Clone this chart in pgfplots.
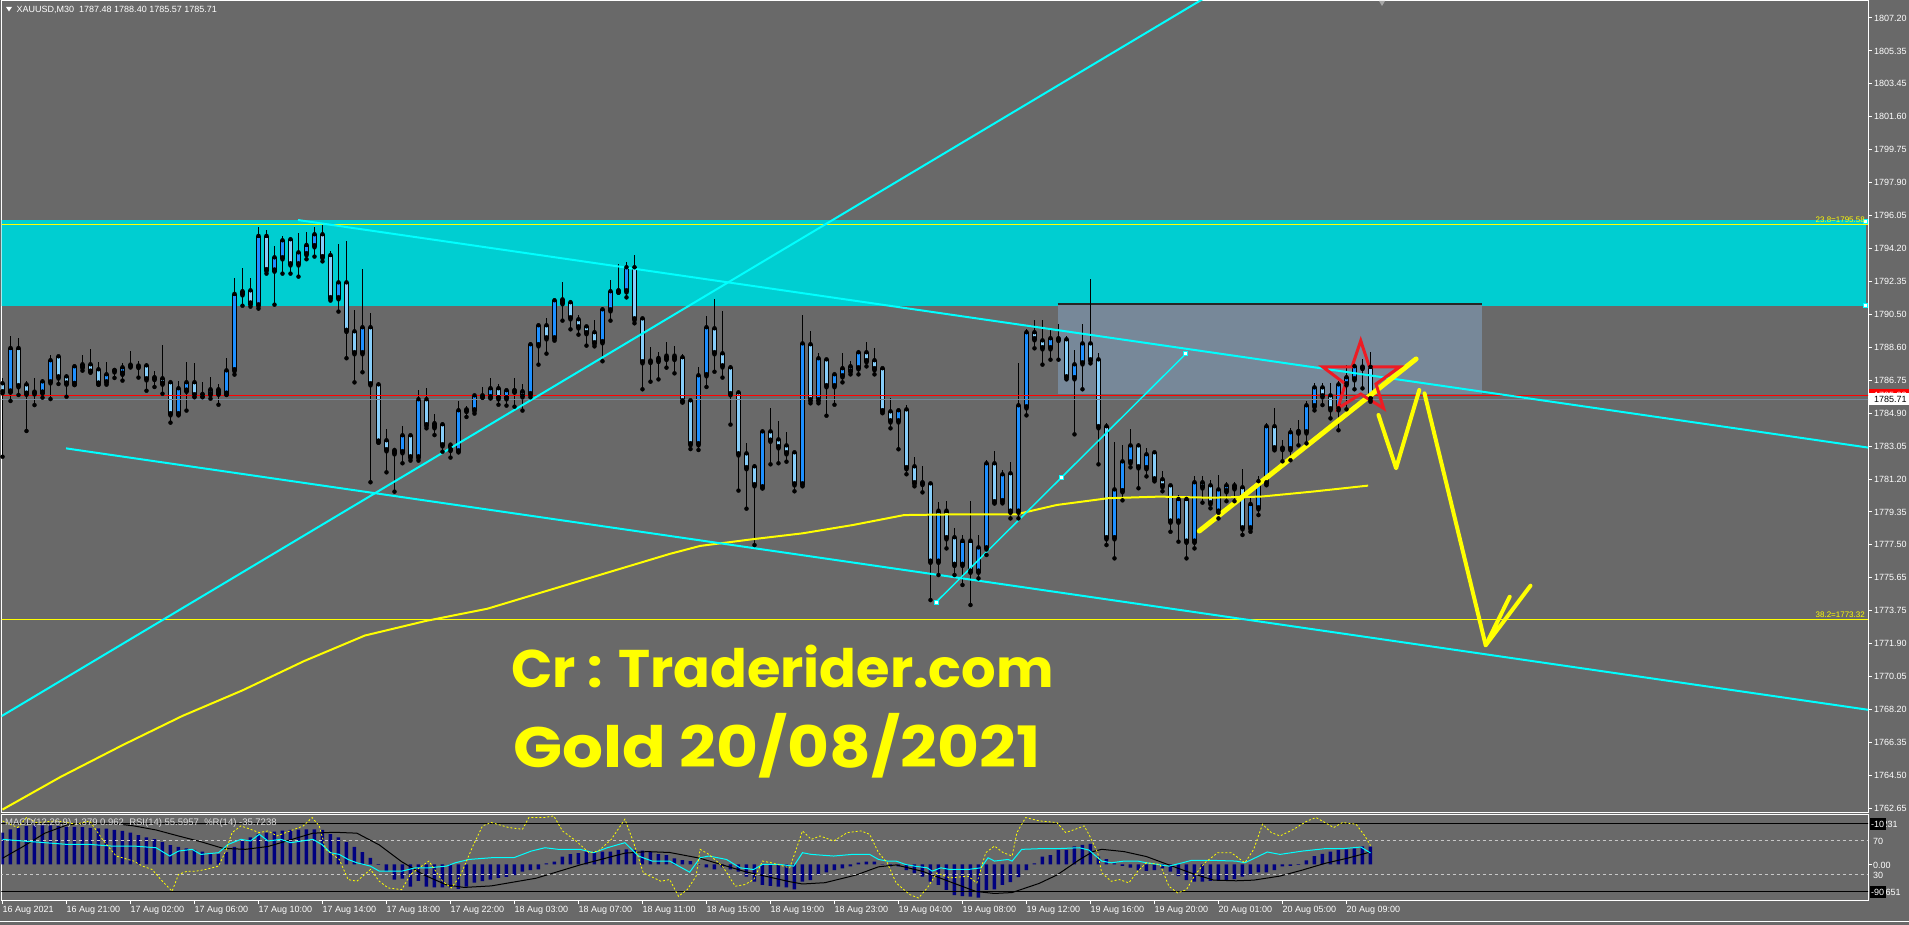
\documentclass[border=0pt]{standalone}
\usepackage{fontspec}
\setmainfont{Liberation Sans}
\newfontfamily\bigfont{Poppins}
\usepackage{pgfplots}
\usepackage{pgfplotstable}
\pgfplotsset{compat=1.18}

\definecolor{chartbg}{RGB}{105,105,105}
\definecolor{zone}{RGB}{0,206,209}
\definecolor{slate}{RGB}{119,136,153}
\definecolor{bull}{RGB}{30,144,255}
\definecolor{bear}{RGB}{135,206,250}
\definecolor{aqua}{RGB}{0,255,255}
\definecolor{mtyellow}{RGB}{255,255,0}
\definecolor{starred}{RGB}{237,28,36}
\definecolor{navyblue}{RGB}{0,0,128}
\definecolor{levelgray}{RGB}{200,200,200}
\newcommand\ninept{\fontsize{9}{10.8}\selectfont}
\newcommand\eightpt{\fontsize{8}{9.6}\selectfont}

% XAUUSD M30 bars: index, open, high, low, close
\pgfplotstableread{
k O H L C
0 1786.55 1786.89 1782.47 1786.10
1 1786.14 1789.27 1785.61 1788.54
2 1788.54 1789.16 1785.95 1786.44
3 1786.49 1786.76 1783.92 1786.02
4 1786.04 1786.91 1785.38 1786.08
5 1786.08 1786.85 1785.80 1786.66
6 1786.66 1788.20 1785.72 1787.85
7 1788.07 1788.11 1786.57 1786.94
8 1786.94 1787.13 1785.85 1786.59
9 1786.57 1787.64 1786.51 1787.51
10 1787.62 1788.20 1787.32 1787.51
11 1787.62 1788.54 1787.26 1787.26
12 1787.34 1787.81 1786.53 1786.59
13 1786.66 1787.81 1786.53 1787.06
14 1787.28 1787.36 1786.91 1787.30
15 1787.15 1787.73 1786.76 1787.45
16 1787.56 1788.43 1787.55 1787.60
17 1787.55 1787.87 1786.93 1787.53
18 1787.56 1787.73 1786.19 1786.83
19 1786.89 1787.28 1786.40 1786.85
20 1786.83 1788.77 1786.02 1786.59
21 1786.61 1786.63 1784.39 1784.86
22 1784.86 1786.72 1784.84 1786.27
23 1786.19 1787.81 1785.07 1786.61
24 1786.61 1787.75 1785.82 1785.93
25 1785.95 1786.68 1785.82 1785.91
26 1785.99 1786.96 1785.74 1786.21
27 1786.21 1786.55 1785.40 1786.02
28 1786.02 1788.03 1785.95 1787.28
29 1787.34 1792.53 1787.10 1791.59
30 1791.74 1793.11 1790.98 1791.62
31 1791.79 1792.53 1790.93 1791.10
32 1791.00 1795.42 1790.82 1794.86
33 1794.86 1795.25 1792.79 1792.98
34 1792.96 1794.35 1791.04 1793.65
35 1793.65 1794.91 1792.79 1794.61
36 1794.67 1794.80 1792.79 1793.31
37 1793.31 1795.08 1792.62 1793.93
38 1793.88 1795.14 1793.60 1794.35
39 1794.33 1795.42 1793.75 1794.95
40 1794.95 1795.53 1793.48 1793.71
41 1793.78 1794.07 1791.27 1791.40
42 1791.40 1794.46 1790.65 1792.24
43 1792.24 1794.63 1788.02 1789.56
44 1789.48 1790.74 1786.66 1788.30
45 1788.30 1793.05 1787.23 1789.71
46 1789.71 1790.55 1781.03 1786.55
47 1786.49 1786.66 1783.26 1783.32
48 1783.34 1784.03 1781.59 1782.83
49 1782.79 1782.94 1780.50 1782.66
50 1782.72 1784.20 1782.10 1783.62
51 1783.62 1783.67 1782.25 1782.43
52 1782.43 1786.23 1782.25 1785.65
53 1785.65 1786.32 1784.07 1784.24
54 1784.13 1784.88 1783.69 1784.30
55 1784.24 1784.26 1782.75 1783.11
56 1783.09 1783.22 1782.42 1782.85
57 1782.77 1785.59 1782.75 1785.03
58 1785.05 1785.31 1784.71 1785.08
59 1785.08 1785.99 1784.90 1785.87
60 1785.85 1786.40 1785.80 1785.87
61 1785.82 1786.91 1785.76 1786.27
62 1786.27 1786.57 1785.40 1785.76
63 1785.76 1786.29 1785.35 1786.16
64 1786.14 1786.91 1785.29 1786.16
65 1786.10 1786.55 1785.07 1785.87
66 1785.99 1788.92 1785.82 1788.75
67 1788.75 1789.97 1787.66 1789.82
68 1789.82 1790.27 1788.28 1789.14
69 1789.14 1791.28 1789.01 1791.23
70 1791.28 1792.32 1790.14 1791.12
71 1791.12 1791.14 1789.65 1790.27
72 1790.16 1790.44 1789.35 1789.76
73 1789.76 1789.88 1788.73 1789.43
74 1789.43 1790.16 1788.69 1788.86
75 1788.92 1790.89 1787.85 1790.72
76 1790.72 1792.41 1790.14 1791.74
77 1791.77 1793.31 1791.72 1791.79
78 1791.79 1793.43 1791.45 1793.09
79 1793.09 1793.84 1789.99 1790.21
80 1790.21 1790.23 1786.27 1787.79
81 1787.83 1788.64 1786.70 1787.81
82 1787.98 1788.35 1786.83 1787.87
83 1788.11 1788.92 1787.49 1787.98
84 1788.11 1788.69 1787.17 1787.98
85 1788.02 1788.24 1785.53 1785.59
86 1785.59 1785.65 1782.90 1783.17
87 1783.17 1787.53 1782.85 1787.00
88 1787.06 1790.40 1786.40 1789.71
89 1789.65 1791.36 1787.26 1788.30
90 1788.24 1790.68 1786.93 1787.56
91 1787.45 1787.62 1784.28 1785.99
92 1786.04 1786.10 1780.56 1782.60
93 1782.60 1783.24 1779.54 1781.82
94 1781.87 1782.04 1777.49 1780.86
95 1780.74 1783.96 1780.69 1783.84
96 1783.84 1785.20 1782.04 1783.37
97 1783.39 1784.46 1782.10 1783.00
98 1783.05 1783.84 1782.19 1782.66
99 1782.66 1782.68 1780.52 1780.91
100 1780.91 1790.44 1780.80 1788.80
101 1788.75 1789.54 1785.48 1785.65
102 1785.65 1788.30 1785.48 1787.96
103 1787.90 1787.92 1784.78 1786.44
104 1786.44 1787.17 1785.40 1787.06
105 1787.00 1788.30 1786.66 1787.40
106 1787.51 1787.85 1787.11 1787.28
107 1787.45 1788.47 1787.11 1788.30
108 1788.30 1788.92 1787.56 1787.85
109 1787.85 1788.58 1787.11 1787.40
110 1787.40 1787.42 1784.92 1785.03
111 1784.97 1785.76 1784.07 1784.46
112 1784.46 1785.08 1782.89 1785.03
113 1785.08 1785.37 1781.48 1781.82
114 1781.87 1782.43 1780.80 1780.97
115 1780.97 1781.93 1780.46 1780.93
116 1780.91 1780.95 1774.39 1776.55
117 1776.55 1779.90 1775.80 1779.37
118 1779.37 1779.96 1777.30 1777.87
119 1777.87 1778.43 1775.80 1776.37
120 1776.37 1778.06 1775.24 1777.68
121 1777.68 1779.96 1774.11 1775.99
122 1775.99 1778.06 1775.61 1777.30
123 1777.30 1782.27 1776.93 1782.04
124 1782.04 1782.77 1779.84 1779.90
125 1779.96 1781.70 1779.84 1781.42
126 1781.48 1782.15 1778.99 1779.37
127 1779.37 1787.73 1778.99 1785.31
128 1785.25 1789.65 1784.80 1789.43
129 1789.43 1790.16 1788.58 1789.09
130 1788.97 1790.16 1787.66 1788.58
131 1788.58 1789.65 1787.94 1789.09
132 1789.05 1789.93 1787.94 1789.09
133 1789.03 1789.26 1786.83 1786.94
134 1786.89 1788.47 1783.73 1787.62
135 1787.73 1789.95 1786.27 1788.80
136 1788.80 1792.47 1787.73 1787.90
137 1787.90 1788.30 1782.04 1784.13
138 1784.13 1784.35 1777.49 1777.87
139 1777.87 1783.28 1776.74 1780.57
140 1780.52 1783.11 1780.01 1782.15
141 1782.15 1784.01 1781.87 1783.05
142 1783.05 1783.22 1780.69 1781.87
143 1781.82 1782.94 1781.36 1782.55
144 1782.66 1782.68 1781.08 1781.19
145 1781.14 1781.65 1780.52 1780.80
146 1780.80 1780.82 1778.24 1778.81
147 1778.81 1780.31 1777.68 1780.03
148 1780.03 1780.24 1776.74 1777.68
149 1777.68 1781.36 1777.30 1780.97
150 1780.97 1781.36 1779.88 1780.74
151 1780.80 1781.14 1779.56 1779.84
152 1779.37 1781.42 1778.99 1780.57
153 1780.52 1781.03 1779.96 1780.80
154 1780.80 1781.03 1779.96 1780.69
155 1780.69 1781.76 1778.06 1778.43
156 1778.43 1780.24 1778.24 1779.75
157 1779.56 1781.36 1779.18 1781.03
158 1780.97 1784.35 1780.86 1784.13
159 1784.13 1785.20 1782.83 1782.94
160 1782.92 1783.39 1782.21 1782.90
161 1782.89 1784.07 1782.27 1783.79
162 1783.83 1784.52 1783.11 1783.86
163 1783.84 1785.59 1783.22 1785.31
164 1785.31 1786.61 1785.08 1786.32
165 1786.32 1786.61 1785.38 1785.87
166 1785.87 1786.61 1784.63 1785.14
167 1785.14 1786.72 1783.96 1786.49
168 1786.55 1787.64 1785.14 1786.89
169 1786.83 1787.79 1786.27 1787.51
170 1787.49 1787.96 1786.32 1787.47
171 1787.48 1788.40 1785.57 1785.71
}\candles

% MACD(12,26,9) main line, drawn as histogram
\pgfplotstableread{
k m
0 2.48
1 2.73
2 2.85
3 2.98
4 3.03
5 3.03
6 3.03
7 2.98
8 2.93
9 2.93
10 2.90
11 2.85
12 2.80
13 2.78
14 2.68
15 2.60
16 2.48
17 2.28
18 2.11
19 1.96
20 1.74
21 1.49
22 1.36
23 1.24
24 1.12
25 0.99
26 0.87
27 0.82
28 0.94
29 1.36
30 1.86
31 2.11
32 2.36
33 2.48
34 2.55
35 2.63
36 2.68
37 2.70
38 2.73
39 2.73
40 2.68
41 2.36
42 2.11
43 1.74
44 1.36
45 0.94
46 0.50
47 -0.05
48 -0.55
49 -1.19
50 -1.12
51 -1.74
52 -1.29
53 -1.74
54 -1.81
55 -1.81
56 -1.81
57 -1.93
58 -1.74
59 -1.44
60 -1.31
61 -1.19
62 -1.07
63 -0.99
64 -0.84
65 -0.57
66 -0.45
67 -0.40
68 0.07
69 0.20
70 0.60
71 0.79
72 0.87
73 0.99
74 0.99
75 0.99
76 0.99
77 1.12
78 1.17
79 1.12
80 1.07
81 0.99
82 0.79
83 0.72
84 0.47
85 0.32
86 0.25
87 -0.05
88 -0.25
89 -0.40
90 -0.25
91 -0.40
92 -0.57
93 -0.97
94 -1.36
95 -1.61
96 -1.69
97 -1.74
98 -1.81
99 -1.96
100 -1.36
101 -1.24
102 -0.84
103 -0.64
104 -0.45
105 -0.32
106 -0.17
107 0.12
108 0.20
109 0.20
110 0.02
111 -0.17
112 -0.17
113 -0.45
114 -0.69
115 -0.97
116 -1.36
117 -1.61
118 -2.01
119 -2.41
120 -2.48
121 -2.53
122 -2.60
123 -2.01
124 -1.96
125 -1.61
126 -1.40
127 -1.00
128 -0.45
129 0.07
130 0.60
131 0.72
132 1.12
133 1.12
134 1.39
135 1.51
136 1.59
137 0.60
138 0.40
139 0.07
140 -0.12
141 -0.27
142 -0.45
143 -0.52
144 -0.45
145 -0.32
146 -0.57
147 -0.92
148 -1.24
149 -1.36
150 -1.36
151 -1.29
152 -1.29
153 -1.24
154 -1.17
155 -0.97
156 -0.84
157 -0.64
158 -0.64
159 -0.45
160 -0.17
161 -0.12
162 -0.05
163 0.30
164 0.64
165 0.82
166 0.99
167 1.12
168 1.17
169 1.24
170 1.39
171 1.38
}\macd

\pgfplotsset{
  panel/.style={at={(1.5pt,24.5pt)}, anchor=south west, width=1866.5pt, height=85.5pt,
    scale only axis, xmin=-0.125, xmax=233.19, clip=true},
}

\begin{document}
\begin{tikzpicture}
\fill[chartbg] (0pt,0pt) rectangle (1909pt,925pt);

% ---------------- price window ----------------
\begin{axis}[
  at={(1.5pt,112.5pt)}, anchor=south west,
  width=1866.5pt, height=811.5pt, scale only axis,
  xmin=-0.125, xmax=233.19, ymin=1762.415, ymax=1808.158,
  axis line style={white, line width=1pt},
  xtick=\empty,
  ytick={1807.20,1805.344,1803.488,1801.631,1799.775,1797.919,1796.063,1794.206,1792.35,1790.494,1788.638,1786.781,1784.925,1783.069,1781.213,1779.356,1777.5,1775.644,1773.788,1771.931,1770.075,1768.219,1766.363,1764.506,1762.65},
  yticklabels={1807.20,1805.35,1803.45,1801.60,1799.75,1797.90,1796.05,1794.20,1792.35,1790.50,1788.60,1786.75,1784.90,1783.05,1781.20,1779.35,1777.50,1775.65,1773.75,1771.90,1770.05,1768.20,1766.35,1764.50,1762.65},
  ytick pos=right, tick align=outside, major tick length=4pt,
  tick style={white, line width=1pt},
  yticklabel style={font=\ninept, text=white, anchor=west, inner sep=0pt, xshift=2pt},
  /pgf/number format/assume math mode=true,
]
% supply/demand zone and range box
\addplot [draw=none, fill=zone] coordinates {(-1,1790.98) (232.9,1790.98) (232.9,1795.81) (-1,1795.81)} --cycle;
\addplot [draw=none, fill=slate] coordinates {(131.9,1786.00) (184.9,1786.00) (184.9,1791.08) (131.9,1791.08)} --cycle;
\addplot [black!85, line width=1.5pt] coordinates {(131.9,1791.08) (184.9,1791.08)};

% candles: wicks, body outline, bodies
\addplot [only marks, mark=none, error bars/.cd, y dir=plus, y explicit, error mark=none,
  error bar style={draw=black, line width=1pt}]
  table [x=k, y=L, y error expr={\thisrow{H}-\thisrow{L}}] {\candles};
\addplot [only marks, mark=none, error bars/.cd, y dir=plus, y explicit, error mark=none,
  error bar style={draw=black, line width=5pt}]
  table [x=k, y expr={min(\thisrow{O},\thisrow{C})-0.06}, y error expr={abs(\thisrow{O}-\thisrow{C})+0.12}] {\candles};
\addplot [only marks, mark=none, error bars/.cd, y dir=plus, y explicit, error mark=none,
  error bar style={draw=bull, line width=3pt}]
  table [x=k, y expr={\thisrow{O}+0.06}, y error expr={max(\thisrow{C}-\thisrow{O}-0.12,0)}] {\candles};
\addplot [only marks, mark=none, error bars/.cd, y dir=plus, y explicit, error mark=none,
  error bar style={draw=bear, line width=3pt}]
  table [x=k, y expr={\thisrow{C}+0.06}, y error expr={max(\thisrow{O}-\thisrow{C}-0.12,0)}] {\candles};

% moving average
\addplot [mtyellow, line width=2pt] coordinates {
(0,1762.58) (7.3,1764.43) (15,1766.21) (22.5,1767.86) (30,1769.30) (37.7,1770.95)
(45.3,1772.39) (52.9,1773.21) (60.6,1773.90) (68.2,1774.93) (75.8,1775.96) (83.4,1776.99)
(87.2,1777.44) (93.6,1777.81) (100,1778.15) (106.3,1778.62) (112.7,1779.18) (119,1779.22)
(126.7,1779.22) (131.8,1779.75) (138.2,1780.13) (144.6,1780.22) (151,1780.16) (157.3,1780.22)
(163.7,1780.50) (170.7,1780.84)};

% price lines and fibonacci levels
\addplot [red, line width=1pt] coordinates {(-1,1785.93) (240,1785.93)};
\addplot [slate, line width=1pt] coordinates {(-1,1785.71) (240,1785.71)};
\addplot [mtyellow, line width=1pt] coordinates {(-1,1795.58) (240,1795.58)};
\addplot [mtyellow, line width=1pt] coordinates {(-1,1773.32) (240,1773.32)};

% trend lines
\addplot [aqua, line width=2pt] coordinates {(-1,1767.61) (160,1810.95)};
\addplot [aqua, line width=2pt] coordinates {(36.94,1795.81) (240,1782.54)};
\addplot [aqua, line width=2pt] coordinates {(7.94,1782.94) (240,1767.76)};
\addplot [aqua, line width=1.5pt] coordinates {(116.7,1774.27) (147.9,1788.26)};
\addplot [only marks, mark=square*, mark size=2pt, mark options={fill=white, draw=aqua, line width=1pt}]
  coordinates {(116.7,1774.27) (132.4,1781.29) (147.9,1788.26)};
\addplot [only marks, mark=square*, mark size=2pt, mark options={fill=white, draw=aqua, line width=1pt}]
  coordinates {(232.9,1795.70) (232.9,1790.98)};

% hand-drawn projection
\addplot [mtyellow, line width=5pt, line cap=round] coordinates {(149.6,1778.28) (176.7,1787.98)};
\addplot [mtyellow, line width=4pt, line cap=round, line join=round] coordinates {(172.0,1784.82) (174.2,1781.82) (177.1,1786.23)};
\addplot [mtyellow, line width=4pt, line cap=round, line join=round] coordinates {(177.75,1786.04) (185.4,1771.84)};
\addplot [mtyellow, line width=4pt, line cap=round, line join=round] coordinates {(188.4,1774.58) (185.4,1771.84) (191,1775.20)};

% star
\addplot [starred, line width=3pt, line join=miter] coordinates {
(169.78,1789.01) (170.86,1787.54) (174.69,1787.54) (171.69,1786.57) (172.65,1785.19)
(169.78,1786.00) (166.90,1785.19) (167.86,1786.57) (165.00,1787.54) (168.69,1787.54)} --cycle;
\end{axis}

% ---------------- indicator window ----------------
\begin{axis}[panel, ymin=-2.83, ymax=3.85,
  axis line style={white, line width=1pt},
  ytick=\empty,
  xtick={0,8,...,168},
  xticklabels={16 Aug 2021,16 Aug 21:00,17 Aug 02:00,17 Aug 06:00,17 Aug 10:00,17 Aug 14:00,17 Aug 18:00,17 Aug 22:00,18 Aug 03:00,18 Aug 07:00,18 Aug 11:00,18 Aug 15:00,18 Aug 19:00,18 Aug 23:00,19 Aug 04:00,19 Aug 08:00,19 Aug 12:00,19 Aug 16:00,19 Aug 20:00,20 Aug 01:00,20 Aug 05:00,20 Aug 09:00},
  xtick pos=bottom, tick align=outside, major tick length=4pt,
  tick style={white, line width=1pt},
  xticklabel style={font=\ninept, text=white, anchor=north west, inner sep=0pt, yshift=-2pt},
]
\addplot [ybar, bar width=3.5pt, bar shift=0pt, fill=navyblue, draw=none] table [x=k, y=m] {\macd};
% signal line
\addplot [black, line width=1pt] coordinates {
(0,0.47) (2.5,1.36) (5.3,2.43) (8.1,3.08) (10.9,3.20) (13.6,3.20) (16.4,3.00) (19.2,2.68)
(22,2.21) (24.8,1.76) (27.6,1.24) (30.4,1.17) (33.2,1.39) (36,1.91) (38.8,2.43) (41.5,2.50)
(44.3,2.43) (47.1,1.51) (49.9,0.20) (52.7,-0.84) (55.5,-1.61) (57.7,-1.81) (61.1,-1.69)
(66.7,-1.09) (72.2,-0.05) (77.8,0.87) (80.6,0.99) (83.4,0.92) (87.2,0.47) (92.8,-0.57)
(98.4,-1.36) (100,-1.54) (102.8,-1.44) (106.7,-0.84) (109.5,-0.20) (111.7,-0.05) (115.1,-0.57)
(118.4,-1.36) (121.7,-2.13) (124,-2.28) (126.2,-2.21) (129.6,-1.49) (131.8,-0.84) (134.6,0.35)
(136.3,0.99) (137.4,1.17) (140.2,0.99) (143,0.60) (145.8,-0.05) (148.6,-0.69) (151.4,-1.24)
(154.2,-1.29) (156.4,-1.24) (159.7,-0.92) (162.5,-0.45) (165.3,0.07) (168.1,0.47) (171,0.96)};
\end{axis}

% RSI(14) and its 30/70 levels, %R levels on the same 0..100 grid
\begin{axis}[panel, hide axis, ymin=0, ymax=100]
\addplot [black, line width=1pt] coordinates {(-1,90) (240,90)};
\addplot [black, line width=1pt] coordinates {(-1,10) (240,10)};
\addplot [levelgray, line width=0.8pt, dash pattern=on 3pt off 3pt] coordinates {(-1,70) (240,70)};
\addplot [levelgray, line width=0.8pt, dash pattern=on 3pt off 3pt] coordinates {(-1,30) (240,30)};
\addplot [aqua, line width=1pt] coordinates {
(0,71.5) (2.5,69.6) (5.3,67.6) (8.1,65.6) (10.9,65.6) (13.6,63.7) (16.4,63.7) (19.2,61.7)
(20.9,52.0) (22,57.8) (23.7,59.8) (24.8,53.9) (27,55.9) (28.2,65.6) (29.8,71.5) (31,69.6)
(32.1,77.4) (33.2,69.6) (34.8,71.5) (36,67.6) (38.8,71.5) (39.9,65.6) (41,55.9) (42.1,53.9)
(43.2,48.0) (44.3,44.1) (46,40.2) (47.1,34.3) (49.9,34.3) (51.6,38.2) (53.3,38.2) (55.5,40.2)
(56.6,44.1) (58.3,48.0) (61.1,50.0) (63.9,50.0) (66.1,57.8) (67.8,61.7) (69.5,59.8) (72.2,59.8)
(73.9,55.9) (75.6,61.7) (77.8,67.6) (79.5,52.0) (81.2,46.1) (83.4,46.1) (85.9,33.1) (87.2,50.0)
(88.3,52.0) (90.5,48.0) (92.2,38.2) (93.9,36.3) (95,42.1) (97.2,42.1) (98.9,40.2) (100,55.9)
(101.1,53.9) (103.9,52.0) (106.2,53.9) (108.4,53.9) (109.5,48.0) (110.6,46.1) (111.7,46.1)
(112.9,42.1) (114,40.2) (115.6,38.2) (116.2,34.3) (117.3,38.2) (118.4,36.3) (120.7,36.3)
(122.3,38.2) (123.2,50.0) (124,46.1) (125.7,48.0) (126.2,46.1) (127.4,59.8) (129.6,60.6)
(131.8,60.6) (134.6,61.7) (135.8,59.0) (137.4,46.1) (138.6,44.1) (140.2,46.1) (141.9,46.1)
(143,44.1) (145.8,40.2) (147.5,44.1) (148.6,46.9) (151.4,46.9) (154.2,46.1) (155.3,44.1)
(158.1,56.7) (159.7,53.9) (162.5,57.8) (165.3,60.6) (167.5,60.6) (169.8,62.5) (171,55.6)};
\end{axis}

% Williams %R(14)
\begin{axis}[panel, hide axis, ymin=-100, ymax=0]
\addplot [mtyellow, line width=0.8pt, dash pattern=on 2pt off 2pt] coordinates {
(0,-6.9) (1.9,-14.7) (3,-3.0) (4.2,-8.8) (6.9,-6.9) (9.2,-10.8) (10.9,-6.9) (12.5,-28.5)
(14.2,-48.0) (16.4,-53.9) (17.5,-59.8) (18.7,-63.7) (19.8,-75.5) (21.2,-89.2) (22,-69.6)
(23.1,-65.7) (24.2,-65.7) (25.4,-63.7) (27,-59.8) (27.9,-42.2) (28.7,-20.6) (29.8,-12.8)
(31,-16.7) (32.1,-20.6) (33.2,-18.6) (34.3,-24.5) (35.4,-20.6) (37.6,-12.8) (38.7,-3.0)
(39.6,-12.8) (40.4,-40.2) (42.1,-52.0) (43.2,-75.5) (44.3,-77.5) (46,-63.7) (47.1,-77.5)
(48.2,-85.3) (49.9,-87.3) (51,-69.6) (52.1,-61.8) (53.3,-53.9) (55,-77.5) (56.1,-85.3)
(57.2,-71.6) (58.8,-36.3) (60,-12.8) (61.1,-8.8) (63.3,-14.7) (65,-16.7) (65.8,-3.0)
(67.8,-3.0) (68.9,-1.0) (70,-18.6) (71.7,-30.4) (73.3,-44.1) (74.5,-42.2) (76.1,-28.5)
(77.8,-4.9) (78.9,-32.4) (80.1,-67.7) (82.3,-77.5) (83.4,-75.5) (84.5,-95.1) (85.6,-87.3)
(86.7,-71.6) (87.2,-40.2) (88.3,-46.1) (90,-59.8) (91.6,-83.3) (92.8,-81.4) (93.9,-75.5)
(95,-53.9) (96.1,-55.9) (98.4,-61.8) (99.5,-32.4) (100,-18.6) (101.1,-28.5) (102.2,-24.5)
(103.9,-30.4) (105.6,-20.6) (107.3,-18.6) (108.4,-22.6) (109.5,-44.1) (110.6,-55.9)
(111.7,-79.4) (113.4,-93.1) (114.5,-97.1) (115.6,-85.3) (116.8,-67.7) (118.4,-73.6)
(120.7,-71.6) (121.8,-79.4) (122.9,-44.1) (124,-36.3) (125.1,-44.1) (126.2,-48.0)
(126.8,-20.6) (127.9,-3.0) (129.6,-6.9) (131.8,-8.8) (132.9,-20.6) (134.1,-16.7)
(135.2,-12.8) (135.8,-22.6) (136.9,-44.1) (137.4,-67.7) (138.6,-77.5) (139.6,-75.5)
(140.8,-79.4) (141.9,-65.7) (143,-55.9) (144.7,-57.9) (145.8,-83.3) (146.9,-91.2)
(148,-87.3) (149.1,-69.6) (150.3,-55.9) (151.9,-44.1) (153.6,-44.1) (155.3,-55.9)
(156.4,-40.2) (157.5,-10.8) (158.6,-20.6) (159.7,-24.5) (161.4,-16.7) (163.1,-6.9)
(164.2,-3.0) (165.3,-8.8) (166.4,-14.7) (167.5,-8.8) (169.2,-10.8) (170.3,-24.5) (171,-35.7)};
\end{axis}

% window captions and scale tags
\fill[white] (6pt,918pt) -- (12pt,918pt) -- (9pt,913.5pt) -- cycle;
\node[anchor=west, inner sep=0pt, text=white, font=\ninept] at (16.5pt,915.5pt)
  {XAUUSD,M30\ \ 1787.48 1788.40 1785.57 1785.71};
\fill[gray!70] (1379pt,924pt) -- (1385pt,924pt) -- (1382pt,919pt) -- cycle;
\node[anchor=south east, inner sep=0pt, text=mtyellow, font=\eightpt] at (1865pt,702.5pt) {23.8=1795.58};
\node[anchor=south east, inner sep=0pt, text=mtyellow, font=\eightpt] at (1865pt,307.5pt) {38.2=1773.32};

\fill[red] (1869pt,523.7pt) rectangle (1909pt,535.7pt);
\node[anchor=west, inner sep=0pt, text=white, font=\ninept] at (1874pt,529.7pt) {1785.93};
\fill[white] (1869pt,519.7pt) rectangle (1909pt,531.7pt);
\node[anchor=west, inner sep=0pt, text=black, font=\ninept] at (1874pt,525.7pt) {1785.71};

\node[anchor=west, inner sep=0pt, text=white, font=\ninept] at (1875pt,101pt) {3.231};
\fill[black] (1870pt,95pt) rectangle (1886pt,107pt);
\node[anchor=west, inner sep=0pt, text=white, font=\ninept] at (1871pt,101pt) {-10};
\node[anchor=west, inner sep=0pt, text=white, font=\ninept] at (1873pt,84pt) {70};
\node[anchor=west, inner sep=0pt, text=white, font=\ninept] at (1873pt,60pt) {0.00};
\node[anchor=west, inner sep=0pt, text=white, font=\ninept] at (1873pt,50pt) {30};
\node[anchor=west, inner sep=0pt, text=white, font=\ninept] at (1875pt,33pt) {-2.651};
\fill[black] (1870pt,27pt) rectangle (1886pt,39pt);
\node[anchor=west, inner sep=0pt, text=white, font=\ninept] at (1871pt,33pt) {-90};
\draw[white, line width=1pt] (1868pt,60pt) -- (1872pt,60pt);

\node[anchor=west, inner sep=0pt, text=white!85!black, font=\fontsize{9.5}{11}\selectfont] at (5pt,102pt)
  {MACD(12,26,9) 1.379 0.962\ \ RSI(14) 55.5957\ \ \%R(14) -35.7238};

% headline
\node[anchor=base west, inner sep=0pt, text=mtyellow, xscale=1.025, font=\bigfont\bfseries\fontsize{53}{53}\selectfont]
  at (511pt,237pt) {Cr : Traderider.com};
\node[anchor=base west, inner sep=0pt, text=mtyellow, xscale=1.13, font=\bigfont\bfseries\fontsize{57}{57}\selectfont]
  at (513pt,157pt) {Gold 20/08/2021};

\draw[white, line width=1pt] (0pt,3pt) -- (1909pt,3pt);
\pgfresetboundingbox
\path[use as bounding box] (0pt,0pt) rectangle (1909pt,925pt);
\end{tikzpicture}
\end{document}
